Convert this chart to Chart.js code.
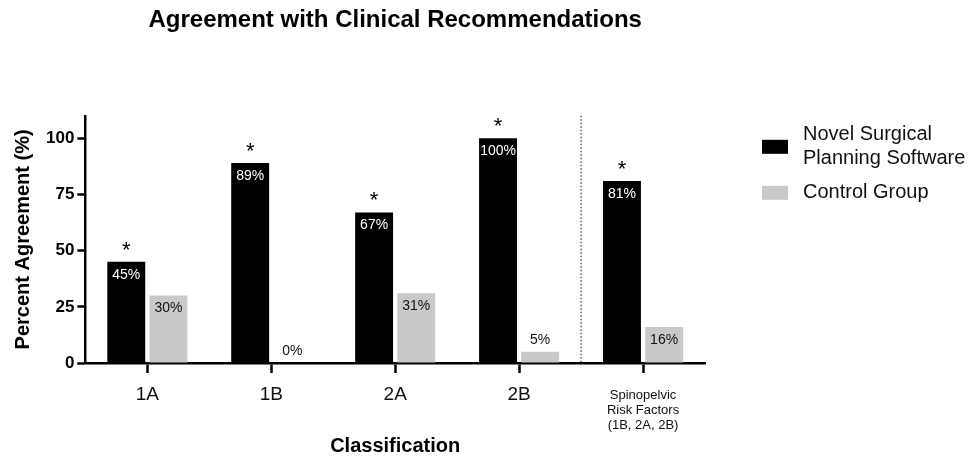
<!DOCTYPE html>
<html>
<head>
<meta charset="utf-8">
<script src="https://cdn.jsdelivr.net/npm/chart.js@4.4.1/dist/chart.umd.min.js"></script>
<style>
  html, body { margin: 0; padding: 0; background: #fff; }
  #wrap { width: 969px; height: 458px; position: relative; }
</style>
</head>
<body>
<div id="wrap"><canvas id="agreementChart"></canvas></div>
<script>
var categories = ["1A", "1B", "2A", "2B", ["Spinopelvic", "Risk Factors", "(1B, 2A, 2B)"]];
var novelSoftware = [45, 89, 67, 100, 81];
var controlGroup = [30, 0, 31, 5, 16];
var significance = ["*", "*", "*", "*", "*"];
var yTicks = [0, 25, 50, 75, 100];

var FONT = "'Liberation Sans', Arial, Helvetica, sans-serif";

// value labels + asterisks + dotted separator
var barAnnotations = {
  id: 'barAnnotations',
  afterDatasetsDraw: function(chart) {
    var ctx = chart.ctx;
    var area = chart.chartArea;
    var xScale = chart.scales.x;

    ctx.save();
    // dotted separator before the last group
    var sepX = xScale.getPixelForValue(3.5);
    ctx.strokeStyle = '#333';
    ctx.lineWidth = 1.2;
    ctx.setLineDash([1.5, 2]);
    ctx.beginPath();
    ctx.moveTo(sepX, area.top);
    ctx.lineTo(sepX, area.bottom);
    ctx.stroke();
    ctx.setLineDash([]);

    ctx.textAlign = 'center';
    chart.data.datasets.forEach(function(ds, di) {
      var meta = chart.getDatasetMeta(di);
      meta.data.forEach(function(bar, i) {
        var v = ds.data[i];
        var h = bar.base - bar.y;
        ctx.font = '14px ' + FONT;
        ctx.textBaseline = 'middle';
        if (h < 20) {
          ctx.fillStyle = '#111';
          ctx.fillText(v + '%', bar.x, bar.y - 12);
        } else {
          ctx.fillStyle = di === 0 ? '#fff' : '#111';
          ctx.fillText(v + '%', bar.x, bar.y + 13);
        }
        if (di === 0 && significance[i]) {
          ctx.fillStyle = '#000';
          ctx.font = '22px ' + FONT;
          ctx.textBaseline = 'alphabetic';
          ctx.fillText(significance[i], bar.x, bar.y - 5);
        }
      });
    });
    ctx.restore();
  }
};

// legend on the right, box centred on multi-line text
var sideLegend = {
  id: 'sideLegend',
  afterDraw: function(chart) {
    var ctx = chart.ctx;
    var area = chart.chartArea;
    var x = area.right + 57;
    var y = area.top + 7;
    var lh = 24;
    ctx.save();
    ctx.font = '20px ' + FONT;
    ctx.textBaseline = 'middle';
    ctx.textAlign = 'left';
    chart.data.datasets.forEach(function(ds) {
      var lines = Array.isArray(ds.label) ? ds.label : [ds.label];
      var blockH = lines.length * lh;
      ctx.fillStyle = ds.backgroundColor;
      ctx.fillRect(x, y + blockH / 2 - 7, 26, 14);
      ctx.fillStyle = '#111';
      lines.forEach(function(t, k) {
        ctx.fillText(t, x + 41, y + lh / 2 + k * lh);
      });
      y += blockH + 10;
    });
    ctx.restore();
  }
};

var ctx = document.getElementById('agreementChart').getContext('2d');
var myChart = new Chart(ctx, {
  type: 'bar',
  data: {
    labels: categories,
    datasets: [
      {
        label: ["Novel Surgical", "Planning Software"],
        data: novelSoftware,
        backgroundColor: '#000000',
        barPercentage: 0.9,
        categoryPercentage: 0.68
      },
      {
        label: "Control Group",
        data: controlGroup,
        backgroundColor: '#c9c9c9',
        barPercentage: 0.9,
        categoryPercentage: 0.68
      }
    ]
  },
  options: {
    responsive: true,
    maintainAspectRatio: false,
    animation: false,
    layout: { padding: { left: 0, right: 264, top: 0, bottom: 2 } },
    plugins: {
      legend: { display: false },
      tooltip: { enabled: false },
      title: {
        display: true,
        fullSize: false,
        text: 'Agreement with Clinical Recommendations',
        color: '#000',
        font: { family: FONT, size: 24, weight: 'bold' },
        padding: { top: 6, bottom: 81 }
      }
    },
    scales: {
      x: {
        grid: {
          offset: false,
          drawOnChartArea: false,
          drawTicks: true,
          tickLength: 10,
          tickWidth: 2.5,
          color: '#000'
        },
        border: { display: true, color: '#000', width: 2.5 },
        ticks: {
          color: '#111',
          padding: 14.5,
          maxRotation: 0,
          autoSkip: false,
          font: function(c) {
            var multi = Array.isArray(categories[c.index]);
            return { family: FONT, size: multi ? 13 : 19, lineHeight: '15px' };
          }
        },
        title: {
          display: true,
          text: 'Classification',
          color: '#000',
          font: { family: FONT, size: 20, weight: 'bold', lineHeight: 1.0 },
          padding: { top: -11, bottom: 0 }
        }
      },
      y: {
        min: 0,
        max: 110,
        afterBuildTicks: function(axis) {
          axis.ticks = yTicks.map(function(v) { return { value: v }; });
        },
        grid: {
          drawOnChartArea: false,
          drawTicks: true,
          tickLength: 8,
          tickWidth: 2.5,
          color: '#000'
        },
        border: { display: true, color: '#000', width: 2.5 },
        ticks: {
          color: '#000',
          padding: 3,
          font: { family: FONT, size: 17, weight: 'bold' }
        },
        title: {
          display: true,
          text: 'Percent Agreement (%)',
          color: '#000',
          font: { family: FONT, size: 20, weight: 'bold' },
          padding: { top: 11, bottom: 8 }
        }
      }
    }
  },
  plugins: [barAnnotations, sideLegend]
});
</script>
</body>
</html>
